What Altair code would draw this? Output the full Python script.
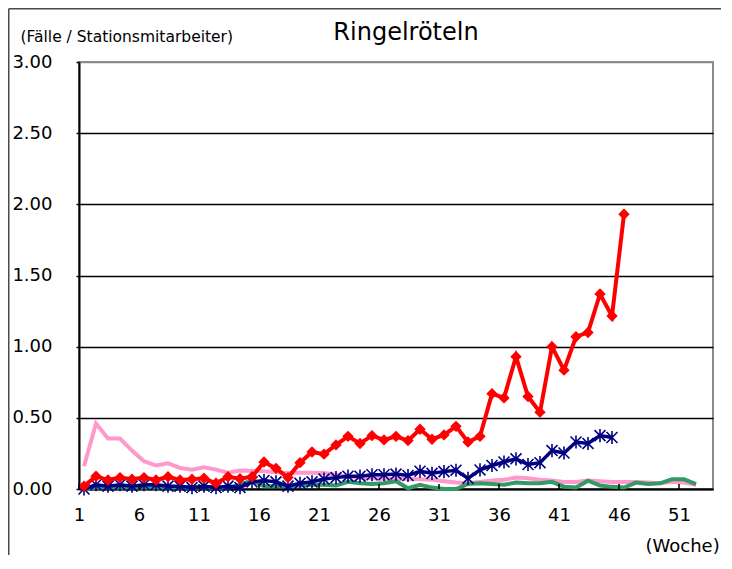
import altair as alt
import pandas as pd

# ---- data ----
weeks_pink = list(range(1, 53))
pink = [0.16, 0.46, 0.355, 0.355, 0.27, 0.195, 0.165, 0.18, 0.148, 0.136,
        0.153, 0.136, 0.115, 0.13, 0.128, 0.125, 0.118, 0.112, 0.115, 0.115,
        0.112, 0.1, 0.088, 0.078, 0.075, 0.072, 0.07, 0.07, 0.068, 0.065,
        0.055, 0.045, 0.04, 0.05, 0.06, 0.065, 0.08, 0.075, 0.065, 0.06,
        0.05, 0.05, 0.06, 0.055, 0.05, 0.05, 0.05, 0.045, 0.04, 0.05,
        0.045, 0.03]

weeks_green = list(range(1, 53))
green = [0.0, 0.01, 0.01, 0.01, 0.01, 0.01, 0.01, 0.01, 0.01, 0.01,
         0.01, 0.01, 0.01, 0.03, 0.06, 0.02, 0.02, 0.02, 0.025, 0.03,
         0.03, 0.025, 0.05, 0.04, 0.035, 0.04, 0.055, 0.005, 0.03, 0.01,
         0.0, 0.0, 0.035, 0.04, 0.035, 0.03, 0.045, 0.04, 0.04, 0.05,
         0.016, 0.01, 0.058, 0.025, 0.015, 0.01, 0.045, 0.035, 0.04, 0.068,
         0.068, 0.035]

weeks_navy = list(range(1, 46))
navy = [0.0, 0.03, 0.02, 0.03, 0.02, 0.03, 0.03, 0.02, 0.02, 0.01,
        0.02, 0.01, 0.02, 0.01, 0.05, 0.06, 0.05, 0.02, 0.04, 0.05,
        0.07, 0.08, 0.09, 0.09, 0.1, 0.1, 0.105, 0.095, 0.125, 0.11,
        0.122, 0.132, 0.075, 0.134, 0.165, 0.19, 0.212, 0.172, 0.185, 0.27,
        0.253, 0.33, 0.32, 0.375, 0.362]

weeks_red = list(range(1, 47))
red = [0.02, 0.09, 0.063, 0.08, 0.068, 0.08, 0.063, 0.086, 0.063, 0.068,
       0.075, 0.04, 0.086, 0.072, 0.086, 0.19, 0.145, 0.08, 0.185, 0.26,
       0.245, 0.31, 0.37, 0.32, 0.375, 0.345, 0.37, 0.34, 0.42, 0.35,
       0.38, 0.44, 0.33, 0.37, 0.67, 0.64, 0.93, 0.65, 0.54, 1.0,
       0.835, 1.07, 1.1, 1.37, 1.215, 1.93]

tick_weeks = [1, 6, 11, 16, 21, 26, 31, 36, 41, 46, 51]
y_ticks = [0, 0.5, 1.0, 1.5, 2.0, 2.5, 3.0]

FONT = "DejaVu Sans"

df_pink = pd.DataFrame({"Woche": weeks_pink, "Wert": pink})
df_green = pd.DataFrame({"Woche": weeks_green, "Wert": green})
df_navy = pd.DataFrame({"Woche": weeks_navy, "Wert": navy})
df_red = pd.DataFrame({"Woche": weeks_red, "Wert": red})
df_ticks = pd.DataFrame({"Woche": tick_weeks, "y0": [0.0] * len(tick_weeks),
                         "y1": [0.035] * len(tick_weeks)})

x_scale = alt.Scale(domain=[0.5833, 53.4167], nice=False, zero=False)
y_scale = alt.Scale(domain=[0, 3], nice=False, zero=False)

x_axis = alt.Axis(values=tick_weeks, tickOffset=-5, ticks=False, grid=False,
                  domainColor="black", domainWidth=2,
                  labelFont=FONT, labelFontSize=18, labelColor="black",
                  labelPadding=17, labelFlush=False, labelOverlap=False,
                  title="(Woche)", titleX=566, titleY=57, titleAlign="left",
                  titleBaseline="middle", titleFont=FONT, titleFontSize=18,
                  titleFontWeight="normal", titleColor="black")

y_axis = alt.Axis(values=y_ticks, format=".2f", tickSize=3, tickColor="black",
                  tickWidth=1.5, domainColor="black", domainWidth=2,
                  grid=True,
                  gridColor={"condition": {"test": "datum.value >= 3", "value": "#8c8c8c"},
                             "value": "black"},
                  gridWidth=1.3,
                  labelFont=FONT, labelFontSize=18, labelColor="black",
                  labelPadding=24, labelFlush=False,
                  title="(Fälle / Stationsmitarbeiter)", titleAngle=0,
                  titleX=-59, titleY=-20.5, titleAlign="left",
                  titleBaseline="alphabetic", titleFont=FONT, titleFontSize=15.5,
                  titleFontWeight="normal", titleColor="black")

X = alt.X("Woche:Q", scale=x_scale, axis=x_axis)
Y = alt.Y("Wert:Q", scale=y_scale, axis=y_axis)

one = pd.DataFrame({"f": [0]})
frame_top = alt.Chart(one).mark_rule(color="#4a4a4a", strokeWidth=1.5).encode(
    x=alt.value(-70.25), x2=alt.value(700), y=alt.value(-53.25))
frame_left = alt.Chart(one).mark_rule(color="#4a4a4a", strokeWidth=1.5).encode(
    x=alt.value(-70.25), y=alt.value(-53.25), y2=alt.value(520))

pink_line = alt.Chart(df_pink).mark_line(color="#FF99CC", strokeWidth=4).encode(x=X, y=Y)
green_line = alt.Chart(df_green).mark_line(color="#339966", strokeWidth=4).encode(x=X, y=Y)
navy_line = alt.Chart(df_navy).mark_line(color="#000080", strokeWidth=3.5).encode(x=X, y=Y)
navy_pts = alt.Chart(df_navy).mark_point(
    shape="M-1,-1L1,1M-1,1L1,-1M0,-1.2L0,1.2", filled=False, size=120,
    stroke="#000080", strokeWidth=1.6, opacity=1
).encode(x=X, y=Y)
red_line = alt.Chart(df_red).mark_line(color="#FF0000", strokeWidth=4).encode(x=X, y=Y)
red_pts = alt.Chart(df_red).mark_point(
    shape="diamond", filled=True, size=130, color="#FF0000", opacity=1
).encode(x=X, y=Y)

ticks = alt.Chart(df_ticks).mark_rule(color="black", strokeWidth=1.5, xOffset=-5).encode(
    x=alt.X("Woche:Q", scale=x_scale, axis=x_axis),
    y=alt.Y("y0:Q", scale=y_scale, axis=y_axis),
    y2="y1:Q",
)

chart = alt.layer(
    frame_top, frame_left, pink_line, green_line, navy_line, navy_pts,
    red_line, red_pts, ticks
).properties(
    width=634, height=427,
    autosize=alt.AutoSizeParams(type="none"),
    padding={"left": 71, "top": 54, "right": 8, "bottom": 66},
    background="white",
    title=alt.TitleParams("Ringelröteln", font=FONT, fontSize=24,
                          fontWeight="normal", color="black", anchor="middle",
                          dx=10, offset=-56, baseline="alphabetic", frame="group"),
).configure_view(stroke="#8c8c8c", strokeWidth=2)

chart.save("out.html", embed_options={"renderer": "svg", "actions": False})
